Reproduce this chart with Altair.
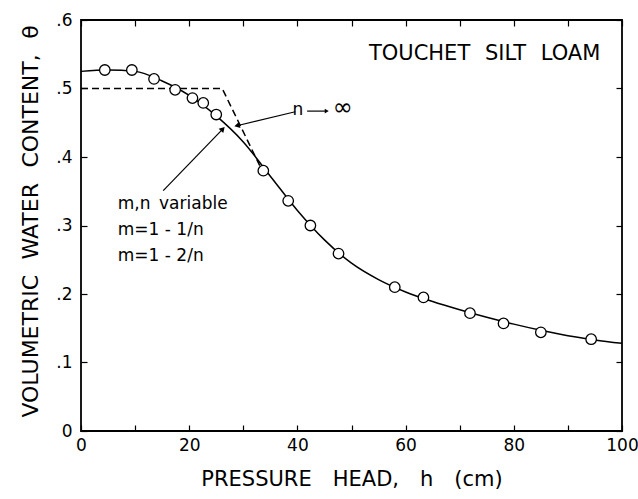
import altair as alt
import pandas as pd

# measured points
obs_h = [4.4, 9.4, 13.5, 17.4, 20.6, 22.6, 25.0, 33.7, 38.3, 42.4, 47.6, 58.0, 63.3, 71.9, 78.1, 85.0, 94.3]
obs_theta = [0.527, 0.527, 0.514, 0.498, 0.486, 0.479, 0.462, 0.380, 0.336, 0.300, 0.259, 0.210, 0.195, 0.172, 0.157, 0.144, 0.134]

# fitted curve (m,n variable)
fit_h = [0, 5, 10, 15, 20, 25, 30, 35, 40, 45, 50, 55, 60, 65, 70, 75, 80, 85, 90, 95, 100]
fit_theta = [0.525, 0.527, 0.525, 0.511, 0.490, 0.460, 0.422, 0.372, 0.322, 0.279, 0.245,
             0.221, 0.203, 0.189, 0.177, 0.166, 0.156, 0.147, 0.139, 0.133, 0.128]

# n -> infinity (dashed)
inf_h = [0, 26.1, 33.5]
inf_theta = [0.5, 0.5, 0.38]

# annotation leaders (data coords)
lead_inf_h = [39.6, 29.0]
lead_inf_theta = [0.466, 0.446]
lead_mn_h = [15.2, 26.1]
lead_mn_theta = [0.351, 0.440]

x_ticks = [0, 10, 20, 30, 40, 50, 60, 70, 80, 90, 100]
y_ticks = [0.0, 0.1, 0.2, 0.3, 0.4, 0.5, 0.6]

FONT = "DejaVu Sans"
W, H = 541, 411
EM = "\u2003"
GAP = "\u2002\u2009"
EN = "\u2002"
TK = 6  # inward tick length

xs = alt.Scale(domain=[0, 100], nice=False)
ys = alt.Scale(domain=[0, 0.6], nice=False)

obs = pd.DataFrame({"h": obs_h, "theta": obs_theta})
fit = pd.DataFrame({"h": fit_h, "theta": fit_theta})
inf = pd.DataFrame({"h": inf_h, "theta": inf_theta})

tick_style = dict(ticks=True, tickSize=TK, tickWidth=1.2, tickColor="black", tickOpacity=1,
                  offset=-TK, domain=False, grid=False)

# bottom / left axes: ticks point outward from an axis moved TK px inside -> inward ticks
X = alt.X("h:Q", scale=xs, axis=alt.Axis(
    values=x_ticks, labelFlush=False, labelOverlap=False,
    labelExpr="datum.value % 20 == 0 ? datum.label : ''",
    labelFont=FONT, labelFontSize=17, labelPadding=6, labelColor="black",
    title=f"PRESSURE{EM}HEAD,{EM}h{EM}(cm)", titleFont=FONT, titleFontSize=21,
    titleFontWeight="normal", titleColor="black", titleY=48 + TK, titleBaseline="middle",
    **tick_style))
Y = alt.Y("theta:Q", scale=ys, axis=alt.Axis(
    values=y_ticks, labelFlush=False, labelOverlap=False,
    labelFont=FONT, labelFontSize=17, labelPadding=9, labelColor="black",
    labelExpr="datum.value == 0 ? '0' : replace(format(datum.value, '.1f'), '0.', '.')",
    title=f"VOLUMETRIC{GAP}WATER{GAP}CONTENT,{GAP}θ", titleFont=FONT, titleFontSize=22,
    titleFontWeight="normal", titleColor="black", titleAngle=270,
    titleX=-51 - TK, titleY=201, titleBaseline="middle", titleAlign="center",
    **tick_style))

# top / right axes carry only the inward ticks
XT = alt.X("h:Q", scale=xs, axis=alt.Axis(orient="top", values=x_ticks, labels=False, title=None, **tick_style))
YR = alt.Y("theta:Q", scale=ys, axis=alt.Axis(orient="right", values=y_ticks, labels=False, title=None, **tick_style))

XN = alt.X("h:Q", scale=xs, axis=None)
YN = alt.Y("theta:Q", scale=ys, axis=None)

curve = alt.Chart(fit).mark_line(color="black", strokeWidth=1.5, interpolate="monotone").encode(x=X, y=Y)
frame_ticks = alt.Chart(pd.DataFrame({"h": [x_ticks[0]], "theta": [y_ticks[0]]})).mark_point(
    opacity=0).encode(x=XT, y=YR)
dash = alt.Chart(inf).mark_line(color="black", strokeWidth=1.5, strokeDash=[7, 4]).encode(x=XN, y=YN)
pts = alt.Chart(obs).mark_point(shape="circle", filled=True, fill="white", stroke="black",
                                strokeWidth=1.3, size=110, opacity=1).encode(x=XN, y=YN)

lead1 = alt.Chart(pd.DataFrame({"h": lead_inf_h, "theta": lead_inf_theta})).mark_line(
    color="black", strokeWidth=1.2).encode(x=XN, y=YN)
lead2 = alt.Chart(pd.DataFrame({"h": lead_mn_h, "theta": lead_mn_theta})).mark_line(
    color="black", strokeWidth=1.2).encode(x=XN, y=YN)

head1 = alt.Chart(pd.DataFrame({"h": [lead_inf_h[1]], "theta": [lead_inf_theta[1]]})).mark_point(
    shape="triangle", filled=True, color="black", size=40, angle=256, opacity=1).encode(x=XN, y=YN)
head2 = alt.Chart(pd.DataFrame({"h": [lead_mn_h[1]], "theta": [lead_mn_theta[1]]})).mark_point(
    shape="triangle", filled=True, color="black", size=40, angle=43, opacity=1).encode(x=XN, y=YN)

# small arrow between n and infinity
arr = alt.Chart(pd.DataFrame({"h": [41.8, 45.2], "theta": [0.467, 0.467]})).mark_line(
    color="black", strokeWidth=1.2).encode(x=XN, y=YN)
arrh = alt.Chart(pd.DataFrame({"h": [45.3], "theta": [0.467]})).mark_point(
    shape="triangle", filled=True, color="black", size=22, angle=90, opacity=1).encode(x=XN, y=YN)

def txt(label, h, theta, size, align="left", baseline="middle"):
    return alt.Chart(pd.DataFrame({"h": [h], "theta": [theta], "t": [label]})).mark_text(
        font=FONT, fontSize=size, align=align, baseline=baseline, color="black").encode(
        x=XN, y=YN, text="t:N")

texts = [
    txt(f"TOUCHET{GAP}SILT{GAP}LOAM", 96.0, 0.550, 21, align="right"),
    txt("n", 40.1, 0.469, 17, align="center"),
    txt("∞", 48.4, 0.471, 24, align="center"),
    txt(f"m,n{EN}variable", 6.8, 0.332, 17),
    txt("m=1 - 1/n", 6.8, 0.294, 17),
    txt("m=1 - 2/n", 6.8, 0.256, 17),
]

chart = alt.layer(
    curve, frame_ticks, dash, pts, lead1, lead2, head1, head2, arr, arrh, *texts
).resolve_axis(x="independent", y="independent").properties(
    width=W, height=H,
    autosize=alt.AutoSizeParams(type="none"),
    padding={"left": 81, "top": 20, "right": 16, "bottom": 68},
    background="white",
).configure_view(stroke="black", strokeWidth=1.8)

chart.save("out.html", embed_options={"renderer": "svg", "actions": False})
